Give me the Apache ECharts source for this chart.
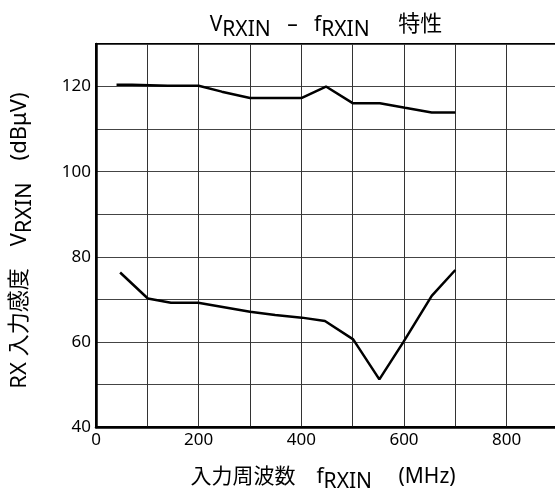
<!DOCTYPE html>
<html>
<head>
<meta charset="utf-8">
<script src="https://cdn.jsdelivr.net/npm/echarts@6/dist/echarts.min.js"></script>
<style>html,body{margin:0;padding:0;background:#fff}#c{width:555px;height:490px}</style>
</head>
<body>
<div id="c"></div>
<script>
var topFreq = [40, 70, 140, 200, 245, 300, 400, 448, 500, 553, 602, 654, 700];
var topVals = [120.4, 120.4, 120.2, 120.2, 118.8, 117.3, 117.3, 120.0, 116.1, 116.1, 115.0, 113.9, 113.9];
var botFreq = [47, 101, 146, 199, 300, 349, 401, 446, 501, 552, 599, 654, 700];
var botVals = [76.3, 70.2, 69.2, 69.2, 67.1, 66.3, 65.7, 64.9, 60.6, 51.2, 60.0, 70.8, 76.9];
var xTickStep = 200, yTickStep = 20;

function pairs(xs, ys) { return xs.map(function (x, i) { return [x, ys[i]]; }); }

var FONT = "'Noto Sans', 'Noto Sans CJK JP', sans-serif";
var chart = echarts.init(document.getElementById('c'), null, { renderer: 'canvas' });
function mkRich(sz, jsz) {
  return {
    n: { fontSize: sz, fontFamily: FONT, color: '#000', fontWeight: 'normal' },
    s: { fontSize: sz, fontFamily: FONT, color: '#000', fontWeight: 'normal', padding: [11, 0, 0, 0] },
    j: { fontSize: jsz || sz, fontFamily: FONT, color: '#000', fontWeight: 'normal' }
  };
}
chart.setOption({
  animation: false,
  title: {
    text: '{n|V}{s|RXIN}{n|   –   f}{s|RXIN}{j|     特性}',
    left: 321, top: 4, textAlign: 'center',
    textStyle: { rich: mkRich(21, 22), fontWeight: 'normal' }
  },
  grid: { left: 96, top: 44, width: 462, height: 383, show: true, borderColor: '#000', borderWidth: 2,
    backgroundColor: 'transparent', containLabel: false, outerBoundsMode: 'none' },
  xAxis: {
    type: 'value', min: 0, max: 900, interval: 100,
    axisLine: { show: true, onZero: false, lineStyle: { color: '#000', width: 2.5 } },
    axisTick: { show: false },
    splitLine: { show: true, lineStyle: { color: '#333', width: 1 } },
    axisLabel: { color: '#000', fontSize: 17, fontFamily: FONT, margin: 5,
      formatter: function (v) { return v % xTickStep === 0 ? String(v) : ''; } },
    name: '{j|入力周波数　}{n|f}{s|RXIN}{n|　 (MHz)}',
    nameLocation: 'middle', nameGap: 34,
    nameTextStyle: { rich: mkRich(21), padding: [0, 8, 0, 0] }
  },
  yAxis: {
    type: 'value', min: 40, max: 130, interval: 10,
    axisLine: { show: true, lineStyle: { color: '#000', width: 2.5 } },
    axisTick: { show: false },
    splitLine: { show: true, lineStyle: { color: '#444', width: 1 } },
    axisLabel: { color: '#000', fontSize: 17, fontFamily: FONT, margin: 5,
      formatter: function (v) { return v % yTickStep === 0 && v <= 120 ? String(v) : ''; } },
    name: '{j|RX 入力感度　}{n|V}{s|RXIN}{n|　(dBμV)}',
    nameLocation: 'middle', nameGap: 60,
    nameTextStyle: { rich: mkRich(22), padding: [0, 10, 0, 0] }
  },
  series: [
    { type: 'line', data: pairs(topFreq, topVals), symbol: 'none', lineStyle: { color: '#000', width: 2.5 } },
    { type: 'line', data: pairs(botFreq, botVals), symbol: 'none', lineStyle: { color: '#000', width: 2.5 } }
  ]
});
</script>
</body>
</html>
